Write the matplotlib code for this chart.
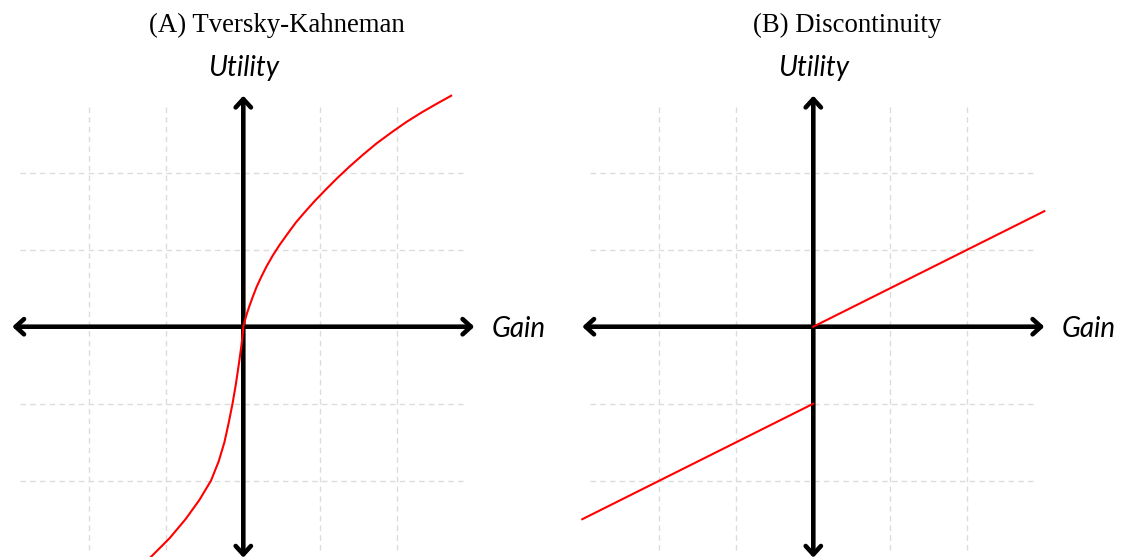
import matplotlib
matplotlib.use("Agg")
import matplotlib.pyplot as plt
from matplotlib.patches import FancyArrowPatch

# ---- data ----
grid_positions = [-2, -1, 1, 2]
gain_x = [0.0, 0.02, 0.05, 0.08, 0.12, 0.17, 0.23, 0.30, 0.38, 0.47, 0.57, 0.68,
          0.80, 0.93, 1.07, 1.22, 1.38, 1.55, 1.73, 1.92, 2.12, 2.32, 2.52, 2.70]
gain_y = [0.0, 0.08, 0.18, 0.27, 0.38, 0.51, 0.64, 0.78, 0.92, 1.06, 1.20, 1.35,
          1.49, 1.635, 1.78, 1.93, 2.08, 2.23, 2.38, 2.52, 2.66, 2.785, 2.90, 3.00]
loss_x = [-1.20, -0.96, -0.75, -0.57, -0.42, -0.32, -0.245, -0.19, -0.14,
          -0.097, -0.06, -0.025, -0.008, 0.0]
loss_y = [-2.99, -2.75, -2.50, -2.25, -2.00, -1.75, -1.50, -1.25, -1.00,
          -0.75, -0.50, -0.25, -0.10, 0.0]
b_upper_x = [0.0, 3.0]
b_upper_y = [0.0, 1.5]
b_lower_x = [-3.0, 0.0]
b_lower_y = [-2.5, -1.0]
titles = ["(A) Tversky-Kahneman", "(B) Discontinuity"]
xlabel = "Gain"
ylabel = "Utility"

W, H = 1121, 557
UNIT = 77.0
fig = plt.figure(figsize=(W / 100, H / 100), dpi=100)

def make_panel(left_px, width_px, origin_x_px, origin_y_px):
    ax = fig.add_axes([left_px / W, 0, width_px / W, 1])
    ax.set_xlim((left_px - origin_x_px) / UNIT, (left_px + width_px - origin_x_px) / UNIT)
    ax.set_ylim((origin_y_px - H) / UNIT, origin_y_px / UNIT)
    ax.axis("off")
    return ax

def decorate(ax, title):
    for g in grid_positions:
        ax.plot([g, g], [-2.9, 2.9], color="#dcdcdc", lw=1.0, ls=(0, (4, 3)), zorder=1)
        ax.plot([-2.9, 2.9], [g, g], color="#dcdcdc", lw=1.0, ls=(0, (4, 3)), zorder=1)
    for (a, b) in [((-3.0, 0), (3.0, 0)), ((0, -3.0), (0, 3.0))]:
        arr = FancyArrowPatch(a, b, arrowstyle="<->,head_length=0.6,head_width=0.55",
                              mutation_scale=10, lw=3.3, color="black",
                              shrinkA=0, shrinkB=0, zorder=2,
                              capstyle="round", joinstyle="round")
        ax.add_patch(arr)
    ax.text(3.23, -0.13, xlabel, ha="left", va="baseline", fontsize=20,
            family="Lato", style="italic")
    ax.text(0, 3.25, ylabel, ha="center", va="baseline", fontsize=20,
            family="Lato", style="italic")
    ax.text(0.44, 3.83, title, ha="center", va="baseline", fontsize=19.3,
            family="Liberation Serif")

axA = make_panel(0, 560, 243.3, 326.7)
decorate(axA, titles[0])
axA.plot(loss_x + gain_x[1:], loss_y + gain_y[1:], color="red", lw=1.5, zorder=3)

axB = make_panel(560, 561, 813.3, 326.7)
decorate(axB, titles[1])
axB.plot(b_upper_x, b_upper_y, color="red", lw=1.5, zorder=3)
axB.plot(b_lower_x, b_lower_y, color="red", lw=1.5, zorder=3)

fig.savefig("out.png", dpi=100)
